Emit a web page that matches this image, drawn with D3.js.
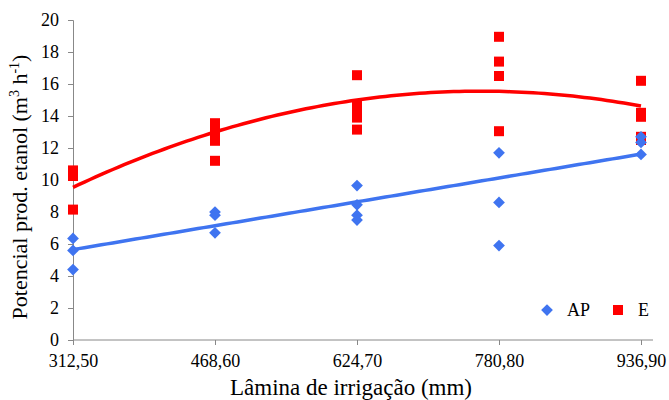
<!DOCTYPE html>
<html>
<head>
<meta charset="utf-8">
<title>Potencial prod. etanol</title>
<script src="https://d3js.org/d3.v7.min.js"></script>
<style>
	body { margin: 0; background: #fff; }
	svg text { font-family: "Liberation Serif", "DejaVu Serif", serif; }
</style>
</head>
<body>
<div id="chart"></div>
<script>

	// irrigation levels (mm)
	var laminas = [312.5, 468.6, 624.7, 780.8, 936.9];
	var xTickLabels = ["312,50", "468,60", "624,70", "780,80", "936,90"];
	var yTicks = [0, 2, 4, 6, 8, 10, 12, 14, 16, 18, 20];

	// observed values per irrigation level
	var apValues = [
		[6.35, 5.6, 4.4],
		[8.0, 7.8, 6.7],
		[9.65, 8.45, 7.8, 7.5],
		[11.7, 8.6, 5.9],
		[12.7, 12.35, 11.6]
	];
	var eValues = [
		[10.6, 10.25, 8.15],
		[13.55, 13.2, 12.8, 12.45, 11.2],
		[16.55, 14.7, 14.3, 13.9, 13.15],
		[18.95, 17.4, 16.5, 13.05],
		[16.2, 14.2, 13.95, 12.7, 12.5]
	];

	// trend lines (AP linear, E quadratic) in x = lamina
	var apTrend = [5.65, 0.00956];            // a + b*(x-312.5)
	var eTrend = [9.54, 4.19, -0.73];         // a + b*u + c*u^2, u=(x-312.5)/156.1

	var width = 669, height = 400;
	var svg = d3.select("#chart").append("svg")
		.attr("width", width)
		.attr("height", height);

	var x = d3.scaleLinear().domain([312.5, 936.9]).range([73, 641]);
	var y = d3.scaleLinear().domain([0, 20]).range([340, 20]);

	var blue = "#3f74f0", red = "#ff0000";

	// y axis
	var yAxis = svg.append("g")
		.attr("transform", "translate(73,0)")
		.call(d3.axisLeft(y).tickValues(yTicks).tickSize(5).tickPadding(9));
	yAxis.attr("font-family", null).attr("font-size", null);
	yAxis.select(".domain").attr("stroke", "#888");
	yAxis.selectAll(".tick line").attr("stroke", "#888");
	yAxis.selectAll(".tick text")
		.style("font-size", "18px")
		.attr("fill", "#000");

	// x axis
	var xAxis = svg.append("g")
		.attr("transform", "translate(0,340)")
		.call(d3.axisBottom(x).tickValues(laminas)
			.tickFormat(function(d, i) { return xTickLabels[i]; })
			.tickSize(5).tickSizeOuter(0).tickPadding(9));
	xAxis.attr("font-family", null).attr("font-size", null);
	xAxis.select(".domain")
		.attr("stroke", "#888")
		.attr("d", "M" + x(312.5) + ",0H" + (x(936.9) + 12));
	xAxis.selectAll(".tick line").attr("stroke", "#888");
	xAxis.selectAll(".tick text")
		.style("font-size", "18px")
		.attr("fill", "#000");

	// trend lines
	var samples = d3.range(0, 101).map(function(i) { return 312.5 + (936.9 - 312.5) * i / 100; });

	var line = d3.line()
		.x(function(d) { return x(d[0]); })
		.y(function(d) { return y(d[1]); });

	var apLine = samples.map(function(v) { return [v, apTrend[0] + apTrend[1] * (v - 312.5)]; });
	var eLine = samples.map(function(v) {
		var u = (v - 312.5) / 156.1;
		return [v, eTrend[0] + eTrend[1] * u + eTrend[2] * u * u];
	});

	svg.append("path").datum(eLine)
		.attr("d", line)
		.attr("fill", "none")
		.attr("stroke", red)
		.attr("stroke-width", 3.5);

	svg.append("path").datum(apLine)
		.attr("d", line)
		.attr("fill", "none")
		.attr("stroke", blue)
		.attr("stroke-width", 3.5);

	// points
	var ePts = [], apPts = [];
	laminas.forEach(function(l, i) {
		eValues[i].forEach(function(v) { ePts.push([l, v]); });
		apPts.push.apply(apPts, apValues[i].map(function(v) { return [l, v]; }));
	});

	var square = d3.symbol().type(d3.symbolSquare).size(100);
	var diamond = d3.symbol().type(d3.symbolDiamond2).size(88);

	svg.append("g").selectAll("path")
		.data(ePts)
		.enter().append("path")
		.attr("d", square)
		.attr("transform", function(d) { return "translate(" + x(d[0]) + "," + y(d[1]) + ")"; })
		.attr("fill", red);

	svg.append("g").selectAll("path")
		.data(apPts)
		.enter().append("path")
		.attr("d", diamond)
		.attr("transform", function(d) { return "translate(" + x(d[0]) + "," + y(d[1]) + ")"; })
		.attr("fill", blue);

	// legend
	var legend = svg.append("g");
	legend.append("path").attr("d", diamond).attr("fill", blue)
		.attr("transform", "translate(547,310)");
	legend.append("text").attr("x", 567).attr("y", 316).style("font-size", "18px").text("AP");
	legend.append("path").attr("d", square).attr("fill", red)
		.attr("transform", "translate(618,310)");
	legend.append("text").attr("x", 638).attr("y", 316).style("font-size", "18px").text("E");

	// axis titles
	svg.append("text")
		.attr("x", 351).attr("y", 395)
		.attr("text-anchor", "middle")
		.style("font-size", "23px")
		.text("Lâmina de irrigação (mm)");

	var yt = svg.append("text")
		.attr("transform", "translate(27,187) rotate(-90)")
		.attr("text-anchor", "middle")
		.style("font-size", "22px");
	yt.append("tspan").text("Potencial prod. etanol (m");
	yt.append("tspan").attr("dy", -8).style("font-size", "14px").text("3");
	yt.append("tspan").attr("dy", 8).text(" h");
	yt.append("tspan").attr("dy", -8).style("font-size", "14px").text("-1");
	yt.append("tspan").attr("dy", 8).text(")");

</script>
</body>
</html>
